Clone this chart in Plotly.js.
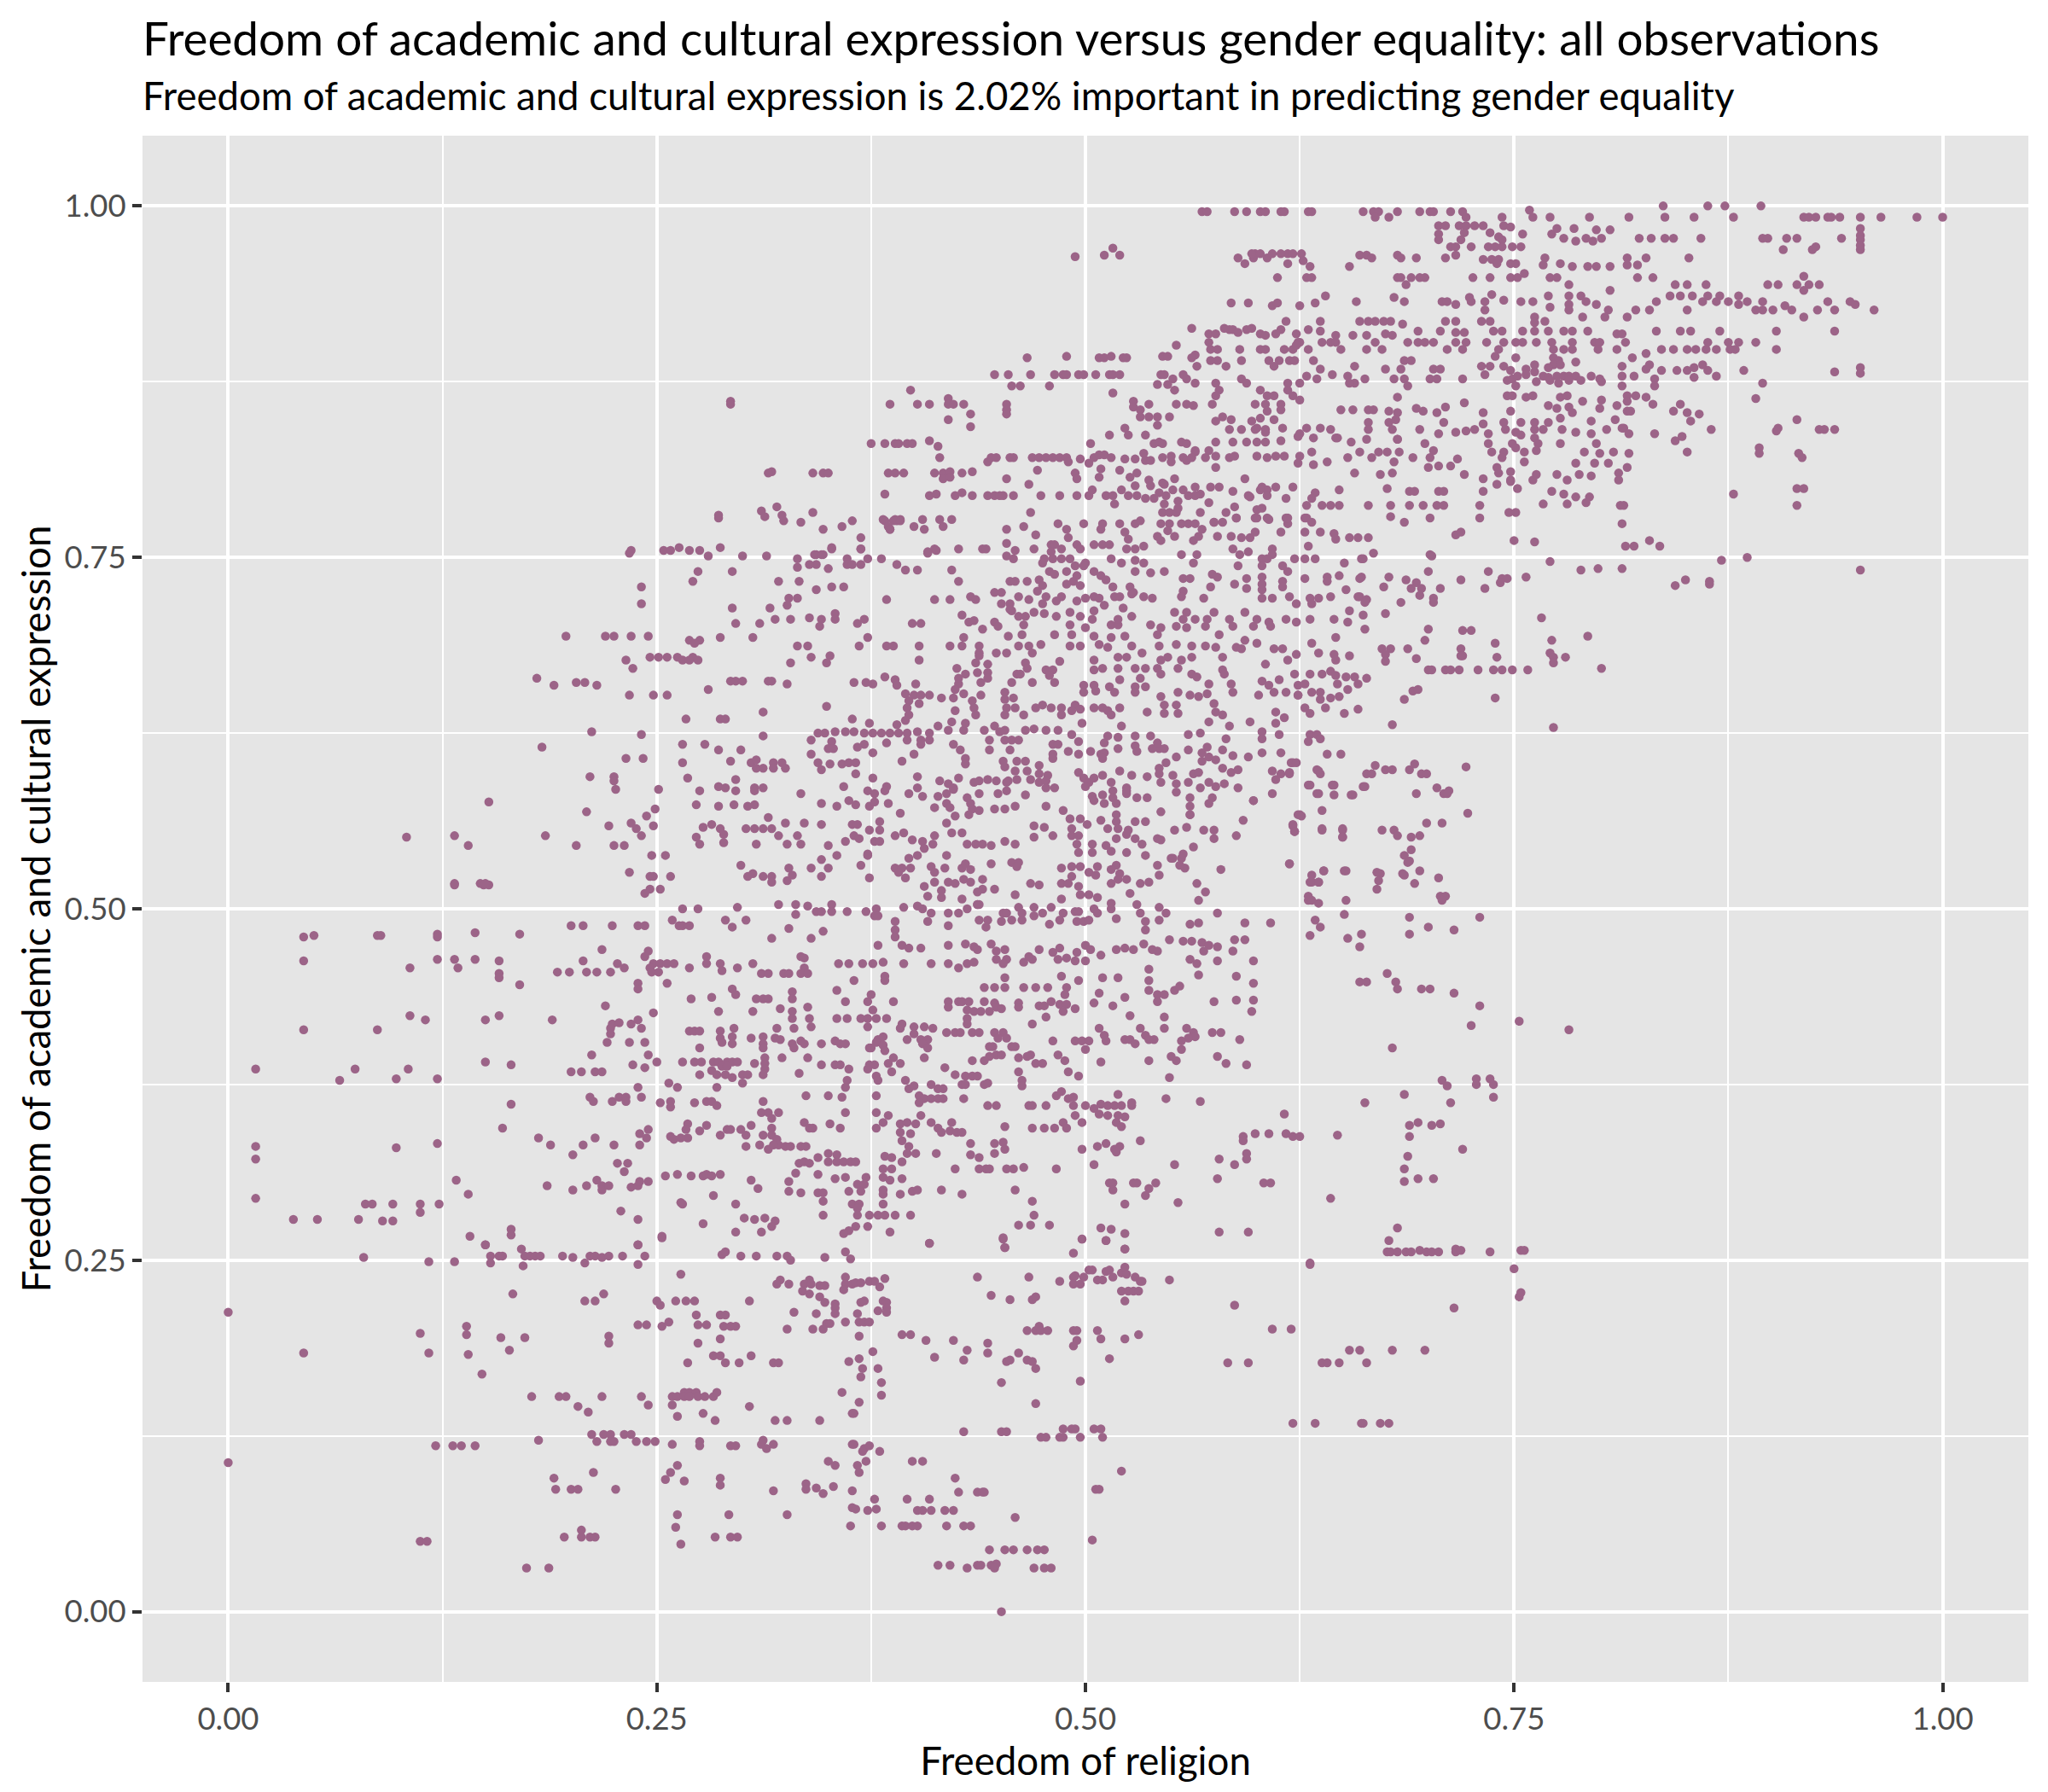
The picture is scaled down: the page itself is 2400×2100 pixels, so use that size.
<!DOCTYPE html>
<html><head><meta charset="utf-8">
<script src="https://cdn.plot.ly/plotly-3.0.1.min.js"></script>
<style>html,body{margin:0;padding:0;background:#fff}</style></head>
<body><div id="chart" style="width:2400px;height:2100px"></div>
<script>
const titleText = "Freedom of academic and cultural expression versus gender equality: all observations";
const subtitleText = "Freedom of academic and cultural expression is 2.02% important in predicting gender equality";
const xAxisTitle = "Freedom of religion";
const yAxisTitle = "Freedom of academic and cultural expression";
const tickValues = [0, 0.25, 0.5, 0.75, 1];
const tickLabels = ["0.00", "0.25", "0.50", "0.75", "1.00"];
// Observations, as flat (religion, academic) pairs, by region of the plot.
const lowLeft = [.079,.252,.117,.249,.132,.249,.153,.253,.153,.248,.158,.253,.160,.253,.171,.258,.173,.253,.176,.253,.179,.253,.182,.253,.172,.246,.195,.253,.201,.252,.208,.248,.211,.253,.214,.253,.218,.252,.222,.253,.230,.253,.239,.261,.243,.253,.239,.247,.253,.266,.288,.254,.290,.256,.299,.253,.308,.253,.320,.253,.326,.253,.328,.250,.348,.252,.360,.256,.363,.251,.150,.261,.264,.240,.322,.236,.320,.233,.327,.233,.339,.236,.336,.233,.340,.233,.345,.232,.348,.232,.360,.238,.360,.233,.364,.233,.359,.229,.335,.228,.339,.226,.345,.224,.348,.220,.354,.219,.354,.216,.354,.212,.343,.212,.330,.213,.166,.226,.208,.221,.214,.221,.219,.226,.250,.221,.252,.218,.261,.221,.267,.221,.272,.221,.304,.221,0,.213,.273,.211,.287,.211,.290,.211,.139,.203,.139,.197,.112,.198,.159,.195,.173,.195,.222,.196,.222,.191,.239,.204,.244,.204,.253,.203,.257,.206,.274,.204,.279,.204,.289,.203,.293,.203,.296,.203,.326,.201,.341,.201,.347,.201,.349,.205,.351,.205,.360,.206,.274,.191,.287,.194,.044,.184,.117,.184,.140,.183,.164,.186,.283,.182,.287,.182,.290,.177,.298,.177,.305,.182,.268,.177,.318,.177,.321,.177,.362,.178,.148,.169,.358,.156,.177,.153,.193,.153,.197,.153,.218,.153,.241,.153,.259,.153,.262,.153,.266,.156,.269,.156,.273,.156,.274,.153,.278,.153,.283,.153,.285,.156,.266,.153,.269,.153,.204,.146,.210,.142,.245,.147,.259,.147,.304,.146,.262,.139,.277,.141,.284,.136,.319,.136,.326,.136,.345,.136,.364,.141,.212,.126,.219,.126,.223,.126,.231,.126,.235,.126,.215,.121,.223,.121,.225,.121,.238,.121,.244,.121,.249,.121,.181,.122,.121,.118,.131,.118,.136,.118,.144,.118,.259,.119,.275,.121,.275,.118,.293,.118,.296,.118,.312,.122,.311,.119,.314,.116,.318,.119,.364,.119,0,.106,.350,.107,.354,.104,.262,.104,.258,.099,.255,.094,.266,.093,.213,.099,.190,.095,.191,.087,.200,.087,.204,.087,.226,.087,.287,.095,.287,.090,.318,.086,.337,.091,.337,.087,.343,.088,.347,.084,.353,.089,.364,.086,.262,.069,.292,.069,.326,.069,.364,.074,.363,.061,.261,.060,.206,.058,.206,.053,.196,.053,.211,.053,.214,.053,.284,.053,.293,.053,.297,.053,.264,.048,.112,.050,.116,.050,.174,.031,.187,.031];
const lowRight = [.409,.262,.452,.265,.453,.259,.493,.255,.498,.265,.512,.264,.523,.258,.677,.264,.676,.256,.678,.256,.682,.256,.687,.256,.690,.256,.695,.257,.699,.256,.702,.256,.706,.256,.716,.258,.716,.256,.719,.257,.736,.256,.754,.257,.756,.257,.631,.247,.750,.244,.753,.224,.754,.227,.587,.218,.715,.216,.366,.234,.369,.234,.374,.235,.377,.235,.383,.237,.380,.231,.437,.238,.467,.238,.485,.235,.493,.238,.494,.239,.493,.233,.497,.233,.499,.238,.502,.243,.504,.243,.507,.236,.510,.236,.512,.242,.514,.243,.516,.238,.521,.241,.523,.245,.524,.240,.529,.238,.532,.235,.533,.235,.549,.236,.521,.228,.525,.228,.528,.228,.531,.228,.523,.221,.445,.225,.456,.222,.469,.222,.471,.224,.369,.220,.371,.221,.382,.221,.384,.220,.384,.216,.379,.214,.384,.213,.367,.212,.368,.206,.371,.206,.374,.206,.368,.196,.393,.197,.398,.197,.407,.193,.423,.193,.443,.191,.431,.186,.443,.184,.466,.200,.471,.200,.473,.203,.474,.200,.478,.200,.493,.200,.495,.200,.507,.200,.509,.194,.495,.193,.493,.189,.523,.194,.531,.197,.609,.201,.620,.201,.376,.185,.412,.181,.429,.179,.368,.180,.454,.178,.456,.179,.461,.184,.466,.179,.469,.178,.471,.173,.514,.180,.583,.177,.595,.177,.638,.177,.641,.177,.648,.177,.664,.177,.654,.186,.660,.186,.679,.186,.698,.186,.370,.173,.379,.173,.369,.167,.381,.163,.381,.154,.368,.149,.451,.163,.497,.164,.471,.148,.365,.141,.621,.134,.634,.134,.661,.134,.662,.134,.672,.134,.677,.134,.429,.128,.451,.128,.454,.128,.487,.130,.492,.130,.494,.130,.505,.130,.509,.130,.474,.124,.477,.124,.485,.124,.487,.124,.497,.124,.510,.124,.365,.119,.371,.116,.374,.118,.370,.114,.380,.114,.399,.107,.405,.107,.372,.107,.367,.104,.368,.099,.424,.095,.521,.100,.426,.085,.437,.085,.440,.085,.441,.085,.506,.087,.508,.087,.377,.080,.396,.080,.409,.080,.366,.073,.373,.072,.378,.073,.402,.072,.405,.072,.410,.072,.418,.072,.423,.072,.459,.067,.381,.061,.393,.061,.395,.061,.399,.061,.402,.061,.419,.061,.429,.061,.433,.061,.504,.051,.444,.044,.453,.044,.458,.044,.466,.044,.472,.044,.476,.044,.414,.033,.421,.033,.431,.031,.437,.033,.439,.033,.445,.033,.448,.034,.447,.031,.470,.031,.476,.031,.480,.031,.451,0];
const midCentre = [.299,.531,.306,.525,.303,.523,.312,.523,.317,.523,.317,.519,.327,.529,.329,.524,.326,.520,.340,.529,.350,.529,.346,.523,.346,.535,.355,.538,.369,.531,.373,.538,.374,.522,.389,.529,.393,.529,.398,.529,.391,.526,.395,.522,.397,.536,.402,.538,.419,.538,.410,.530,.412,.526,.418,.529,.412,.519,.416,.513,.416,.508,.406,.516,.408,.509,.420,.519,.424,.518,.428,.529,.430,.532,.433,.528,.429,.521,.433,.519,.440,.521,.445,.532,.457,.533,.461,.533,.460,.530,.428,.507,.437,.503,.440,.514,.437,.512,.447,.514,.459,.510,.468,.518,.473,.517,.486,.518,.490,.518,.496,.516,.492,.523,.486,.529,.492,.530,.497,.530,.507,.530,.502,.526,.506,.524,.518,.531,.515,.528,.520,.525,.519,.521,.515,.518,.524,.521,.532,.518,.537,.519,.542,.531,.543,.524,.550,.536,.556,.536,.558,.529,.579,.528,.565,.518,.570,.512,.566,.506,.526,.511,.497,.510,.502,.510,.507,.508,.486,.507,.619,.532,.639,.527,.651,.527,.631,.519,.636,.519,.630,.506,.636,.504,.577,.497,.634,.492,.651,.496,.631,.481,.653,.479,.265,.500,.274,.500,.297,.501,.321,.503,.331,.503,.338,.502,.352,.503,.331,.496,.343,.498,.346,.498,.352,.498,.361,.498,.372,.498,.378,.500,.377,.495,.379,.495,.394,.501,.402,.502,.405,.500,.410,.497,.420,.497,.426,.497,.431,.500,.437,.503,.438,.503,.452,.497,.454,.497,.461,.501,.463,.497,.470,.501,.470,.495,.475,.497,.480,.501,.487,.497,.494,.498,.496,.498,.505,.500,.515,.504,.507,.497,.515,.500,.530,.503,.532,.497,.543,.501,.547,.497,.290,.492,.294,.487,.302,.492,.327,.486,.340,.479,.347,.484,.317,.479,.265,.488,.269,.488,.389,.491,.389,.485,.389,.480,.408,.491,.420,.488,.443,.492,.438,.492,.442,.487,.451,.491,.457,.492,.463,.492,.479,.489,.485,.492,.495,.491,.499,.491,.502,.492,.518,.493,.535,.491,.535,.485,.543,.492,.561,.489,.566,.490,.593,.490,.608,.490,.379,.474,.393,.474,.397,.472,.404,.472,.420,.474,.430,.475,.435,.473,.437,.471,.445,.475,.448,.470,.453,.471,.448,.464,.454,.464,.452,.461,.464,.462,.469,.464,.467,.466,.473,.471,.481,.469,.485,.472,.484,.464,.489,.465,.495,.469,.500,.474,.503,.471,.509,.467,.494,.463,.500,.463,.518,.471,.523,.472,.528,.471,.534,.475,.539,.471,.542,.470,.549,.478,.557,.477,.562,.477,.568,.476,.572,.474,.577,.473,.569,.470,.587,.478,.593,.478,.586,.470,.561,.464,.565,.461,.577,.463,.598,.463,.566,.453,.588,.452,.598,.447,.279,.466,.279,.461,.287,.461,.288,.456,.297,.458,.306,.461,.334,.466,.336,.465,.336,.458,.334,.454,.338,.454,.324,.454,.327,.454,.311,.454,.315,.454,.269,.458,.356,.461,.362,.461,.370,.461,.376,.461,.382,.462,.394,.461,.410,.461,.420,.461,.426,.458,.431,.461,.435,.462,.365,.449,.383,.452,.383,.449,.453,.451,.486,.452,.496,.449,.510,.451,.519,.451,.537,.457,.537,.449,.441,.444,.447,.444,.453,.444,.464,.444,.471,.444,.478,.444,.489,.444,.488,.439,.508,.440,.523,.437,.537,.442,.542,.439,.546,.439,.552,.442,.555,.445,.542,.434,.294,.443,.296,.439,.270,.436,.282,.437,.308,.436,.312,.436,.315,.436,.329,.441,.329,.436,.355,.442,.286,.427,.306,.427,.322,.429,.338,.430,.329,.427,.329,.422,.339,.422,.355,.422,.361,.422,.369,.422,.373,.422,.376,.428,.378,.422,.384,.422,.360,.434,.373,.434,.375,.439,.388,.434,.420,.434,.420,.430,.426,.434,.428,.434,.432,.434,.441,.434,.447,.433,.448,.430,.451,.429,.461,.433,.461,.430,.473,.431,.476,.431,.480,.434,.485,.432,.489,.432,.487,.427,.494,.429,.505,.433,.516,.431,.575,.434,.588,.435,.598,.435,.597,.427,.526,.424,.546,.423,.477,.423,.469,.418,.431,.428,.435,.427,.439,.427,.444,.427,.431,.422,.431,.418,.393,.418,.392,.415,.400,.416,.400,.411,.406,.416,.411,.415,.419,.412,.424,.412,.427,.412,.434,.412,.438,.412,.447,.412,.452,.412,.449,.408,.454,.408,.508,.415,.511,.410,.512,.406,.494,.406,.498,.406,.502,.406,.481,.406,.523,.407,.526,.407,.529,.404,.532,.415,.535,.410,.537,.407,.540,.407,.546,.415,.559,.415,.563,.412,.564,.409,.560,.408,.556,.406,.574,.412,.579,.412,.590,.407,.556,.400,.550,.395,.553,.392,.537,.392,.577,.395,.582,.390,.594,.389,.549,.380,.509,.391,.500,.400,.484,.396,.488,.392,.490,.384,.496,.381,.468,.396,.466,.395,.461,.394,.471,.390,.475,.390,.461,.384,.463,.378,.463,.374,.434,.392,.448,.396,.451,.396,.444,.395,.441,.392,.444,.402,.446,.402,.457,.402,.459,.402,.396,.407,.404,.407,.408,.407,.405,.404,.408,.401,.406,.394,.418,.387,.424,.382,.430,.381,.434,.381,.437,.381,.428,.375,.430,.375,.441,.375,.443,.376,.395,.378,.397,.372,.400,.374,.410,.375,.414,.372,.417,.372,.403,.367,.406,.365,.410,.365,.414,.365,.417,.365,.403,.362,.429,.365,.404,.353,.443,.360,.448,.360,.467,.360,.469,.360,.477,.360,.483,.367,.486,.370,.490,.365,.493,.366,.493,.360,.500,.360,.505,.358,.508,.354,.509,.361,.513,.360,.517,.360,.521,.360,.527,.360,.527,.362,.519,.368,.494,.353,.513,.353,.523,.352,.519,.353,.518,.348,.521,.345,.498,.348,.547,.365,.567,.363,.616,.354,.469,.344,.476,.344,.482,.344,.487,.348,.489,.344,.453,.345,.592,.338,.592,.335,.599,.340,.607,.340,.617,.340,.621,.338,.625,.338,.647,.339,.594,.326,.594,.322,.587,.318,.578,.322,.532,.335,.520,.331,.517,.329,.518,.327,.507,.331,.512,.333,.498,.329,.433,.333,.447,.333,.452,.334,.453,.329,.447,.326,.433,.325,.438,.323,.413,.326,.505,.318,.552,.318,.577,.308,.604,.305,.608,.305,.424,.315,.442,.315,.438,.315,.444,.315,.454,.315,.458,.315,.464,.316,.483,.315,.514,.305,.516,.305,.516,.300,.528,.305,.530,.305,.541,.305,.537,.301,.535,.296,.523,.290,.554,.291,.643,.294,.459,.300,.469,.292,.470,.282,.416,.300,.428,.297,.461,.275,.468,.275,.479,.275,.509,.273,.515,.272,.523,.269,.452,.266,.453,.259,.498,.265,.512,.264,.523,.258,.578,.270,.595,.270,.631,.248,.409,.262];
const midCentreLeft = [.269,.413,.272,.413,.275,.413,.287,.413,.295,.415,.287,.408,.288,.405,.294,.409,.294,.404,.305,.408,.312,.409,.312,.404,.312,.401,.319,.408,.322,.407,.329,.404,.330,.401,.334,.406,.336,.404,.346,.404,.354,.406,.357,.404,.360,.404,.320,.415,.330,.415,.340,.416,.373,.416,.379,.407,.382,.409,.378,.405,.382,.403,.383,.399,.374,.401,.375,.401,.275,.401,.265,.391,.272,.391,.276,.391,.283,.391,.286,.391,.291,.391,.294,.391,.297,.391,.288,.388,.291,.388,.282,.385,.275,.382,.285,.382,.290,.382,.294,.380,.300,.382,.303,.382,.300,.376,.285,.373,.307,.390,.313,.394,.313,.390,.313,.386,.312,.382,.323,.394,.338,.394,.333,.383,.346,.389,.354,.389,.357,.389,.362,.386,.361,.378,.360,.373,.374,.389,.377,.389,.373,.386,.378,.381,.379,.378,.385,.390,.388,.394,.392,.390,.387,.384,.337,.367,.350,.367,.358,.366,.378,.367,.360,.355,.378,.355,.385,.353,.382,.348,.378,.344,.272,.362,.279,.363,.282,.363,.285,.360,.312,.363,.311,.355,.315,.355,.321,.355,.317,.351,.305,.346,.279,.346,.275,.342,.291,.343,.293,.343,.299,.343,.302,.339,.287,.339,.268,.347,.267,.343,.268,.337,.336,.348,.339,.344,.341,.344,.351,.347,.357,.344,.317,.344,.312,.339,.317,.339,.320,.336,.321,.332,.302,.331,.310,.332,.315,.329,.318,.332,.325,.331,.328,.331,.334,.331,.337,.331,.392,.347,.396,.348,.401,.347,.392,.341,.398,.340,.393,.335,.397,.331,.396,.326,.401,.326,.410,.348,.414,.344,.416,.341,.422,.348,.421,.342,.425,.341,.428,.341,.333,.319,.336,.320,.339,.319,.344,.323,.350,.326,.350,.320,.355,.325,.355,.320,.359,.320,.363,.320,.366,.320,.383,.324,.387,.323,.393,.320,.382,.315,.387,.315,.382,.309,.386,.307,.393,.308,.372,.309,.367,.304,.371,.304,.382,.300,.382,.297,.392,.297,.399,.299,.402,.300,.362,.299,.369,.299,.270,.310,.277,.310,.279,.311,.282,.310,.287,.311,.305,.307,.309,.301,.331,.312,.327,.306,.327,.299,.334,.298,.344,.311,.344,.298,.347,.298,.354,.308,.360,.309,.347,.292,.283,.296,.296,.290,.265,.290,.364,.290,.368,.290,.367,.287,.382,.290,.367,.282,.374,.282,.379,.282,.383,.282,.389,.282,.398,.282,.347,.282,.301,.280,.307,.279,.313,.280,.319,.278,.317,.274,.277,.276,.296,.270,.311,.270,.366,.274,.373,.274,.362,.271,.359,.269,.386,.270];
const farLeft = [.132,.517,.149,.517,.152,.517,.234,.526,.246,.523,.248,.523,.258,.523,.246,.514,.243,.511,.252,.514,.044,.480,.050,.481,.089,.481,.087,.481,.122,.482,.122,.480,.144,.483,.170,.482,.200,.488,.207,.488,.224,.488,.239,.488,.243,.488,.259,.492,.263,.488,.044,.463,.106,.458,.122,.464,.132,.464,.134,.458,.144,.464,.158,.463,.158,.454,.158,.451,.170,.446,.207,.463,.218,.471,.227,.461,.231,.458,.192,.455,.199,.455,.209,.455,.215,.455,.223,.455,.245,.470,.243,.466,.248,.461,.252,.461,.256,.461,.260,.461,.246,.458,.247,.455,.251,.455,.239,.447,.239,.443,.256,.447,.220,.431,.248,.426,.106,.424,.115,.421,.150,.421,.158,.424,.189,.421,.044,.414,.087,.414,.224,.418,.228,.419,.223,.415,.223,.411,.239,.421,.235,.418,.241,.415,.221,.405,.234,.405,.243,.405,.212,.396,.245,.396,.250,.391,.236,.389,.243,.387,.150,.391,.165,.389,.016,.386,.074,.386,.105,.386,.065,.378,.098,.379,.122,.379,.200,.384,.206,.384,.214,.384,.218,.384,.257,.376,.262,.373,.239,.373,.165,.361,.211,.366,.213,.363,.224,.363,.228,.366,.232,.366,.232,.363,.241,.366,.252,.362,.258,.363,.258,.359,.160,.344,.181,.337,.188,.332,.214,.337,.207,.332,.225,.332,.201,.325,.240,.340,.245,.343,.244,.337,.240,.332,.258,.338,.260,.336,.264,.337,.016,.331,.016,.322,.098,.330,.122,.333,.227,.319,.233,.319,.231,.313,.255,.310,.262,.311,.133,.307,.140,.297,.186,.303,.201,.300,.209,.303,.215,.307,.218,.303,.218,.300,.222,.303,.235,.302,.239,.303,.240,.306,.245,.306,.264,.291,.016,.294,.080,.290,.084,.290,.096,.290,.112,.290,.112,.284,.123,.290,.038,.279,.052,.279,.076,.279,.090,.278,.096,.278,.229,.285,.239,.279,.165,.272,.165,.268,.141,.267,.150,.261,.253,.267,.239,.261,.104,.551,.132,.552,.140,.545,.132,.518,.147,.518,.150,.518,.152,.576,.183,.615,.180,.664,.185,.552,.190,.659,.203,.661,.208,.661,.215,.659,.197,.694,.220,.694,.225,.694,.234,.753,.241,.729,.241,.717,.235,.694,.245,.694,.232,.677,.236,.671,.234,.652,.212,.626,.241,.624,.211,.594,.225,.594,.232,.607,.242,.607,.225,.591,.226,.585,.209,.569,.222,.559,.235,.561,.203,.545,.225,.545,.231,.545,.241,.552,.238,.557,.244,.566,.248,.559,.255,.538,.247,.538,.251,.585,.249,.571,.235,.755,.254,.755,.258,.755,.263,.757,.246,.679,.251,.679,.256,.679,.262,.679,.271,.679,.275,.691,.269,.691,.248,.652,.256,.652];
const upperCentre = [.286,.778,.313,.779,.324,.776,.347,.770,.358,.772,.364,.776,.369,.764,.382,.777,.386,.770,.389,.777,.392,.777,.400,.772,.406,.770,.405,.777,.415,.777,.417,.772,.422,.777,.454,.770,.464,.772,.471,.766,.484,.774,.489,.770,.490,.764,.499,.774,.510,.774,.509,.770,.520,.774,.529,.774,.532,.776,.523,.768,.525,.763,.544,.774,.549,.774,.556,.774,.560,.774,.564,.774,.548,.769,.552,.765,.542,.765,.544,.762,.563,.762,.566,.765,.575,.775,.577,.765,.585,.765,.591,.764,.596,.764,.599,.768,.607,.777,.599,.778,.588,.778,.614,.768,.618,.774,.617,.778,.628,.778,.628,.768,.637,.768,.645,.767,.646,.763,.654,.764,.659,.764,.287,.757,.269,.755,.275,.755,.280,.751,.300,.751,.314,.751,.352,.756,.343,.752,.347,.752,.332,.749,.343,.745,.339,.745,.332,.743,.361,.749,.361,.745,.364,.745,.369,.745,.369,.756,.373,.749,.381,.749,.350,.742,.390,.745,.395,.741,.402,.741,.408,.754,.412,.756,.426,.756,.440,.756,.442,.756,.422,.741,.426,.733,.454,.760,.459,.755,.470,.756,.454,.751,.458,.749,.476,.749,.475,.746,.480,.759,.482,.759,.480,.754,.486,.756,.495,.759,.497,.756,.505,.759,.510,.759,.514,.759,.481,.749,.486,.749,.491,.749,.494,.744,.500,.746,.499,.744,.515,.749,.521,.746,.529,.748,.534,.746,.524,.756,.529,.756,.534,.758,.556,.752,.563,.746,.565,.752,.586,.756,.590,.752,.595,.754,.609,.756,.609,.752,.603,.749,.606,.749,.622,.749,.628,.749,.634,.749,.630,.758,.651,.746,.661,.749,.589,.744,.603,.744,.615,.744,.618,.740,.274,.740,.294,.740,.271,.733,.321,.733,.333,.733,.479,.740,.482,.738,.489,.740,.495,.737,.493,.733,.489,.731,.497,.730,.505,.740,.509,.737,.512,.734,.529,.740,.538,.739,.546,.740,.557,.735,.561,.735,.574,.738,.577,.736,.587,.731,.594,.735,.603,.736,.603,.731,.615,.733,.615,.729,.628,.735,.641,.736,.648,.737,.660,.735,.456,.733,.459,.733,.466,.733,.473,.734,.475,.730,.472,.726,.343,.727,.352,.729,.359,.729,.516,.729,.526,.729,.528,.725,.573,.729,.594,.728,.603,.727,.652,.727,.641,.733,.557,.726,.556,.722,.569,.721,.327,.721,.332,.721,.326,.716,.316,.714,.294,.714,.384,.720,.412,.720,.421,.720,.433,.722,.436,.720,.447,.725,.451,.725,.451,.717,.461,.722,.467,.720,.456,.717,.477,.722,.475,.717,.486,.722,.483,.719,.495,.719,.500,.721,.505,.722,.508,.721,.517,.722,.520,.722,.527,.724,.534,.722,.539,.721,.511,.716,.522,.714,.603,.721,.609,.721,.619,.722,.623,.717,.631,.721,.636,.721,.643,.722,.660,.722,.632,.717,.457,.712,.456,.713,.461,.708,.465,.708,.470,.711,.476,.710,.483,.708,.491,.711,.497,.708,.504,.706,.505,.712,.491,.702,.500,.700,.515,.702,.519,.702,.527,.708,.519,.706,.552,.711,.559,.711,.557,.706,.564,.706,.575,.711,.571,.706,.570,.701,.584,.706,.586,.701,.593,.711,.600,.706,.607,.704,.617,.706,.623,.704,.631,.706,.645,.706,.654,.712,.653,.704,.598,.701,.608,.701,.538,.702,.544,.700,.553,.701,.559,.700,.428,.709,.432,.704,.435,.705,.440,.699,.447,.704,.449,.701,.399,.703,.404,.703,.367,.703,.371,.706,.354,.710,.354,.706,.346,.706,.339,.707,.328,.706,.319,.706,.345,.701,.310,.703,.296,.703,.464,.702,.463,.695,.455,.694,.482,.695,.492,.695,.505,.694,.515,.693,.523,.694,.542,.695,.287,.693,.306,.693,.373,.693,.429,.693,.578,.695,.646,.693,.593,.691,.600,.689,.272,.689,.332,.687,.338,.687,.368,.687,.384,.687,.388,.687,.403,.687,.421,.687,.428,.687,.438,.687,.448,.682,.454,.682,.461,.687,.467,.687,.474,.688,.469,.682,.491,.687,.497,.687,.508,.688,.513,.686,.527,.687,.543,.687,.553,.688,.562,.687,.570,.687,.576,.686,.588,.686,.591,.685,.610,.685,.615,.685,.632,.689,.636,.682,.623,.681,.645,.681,.654,.680,.438,.682,.438,.680,.533,.682,.519,.679,.524,.679,.548,.679,.556,.677,.562,.679,.544,.677,.580,.679,.340,.679,.351,.680,.349,.675,.328,.675,.403,.677,.436,.675,.443,.674,.465,.675,.485,.676,.505,.677,.646,.677,.618,.677,.605,.674,.265,.677,.269,.677,.274,.677,.425,.671,.437,.668,.443,.668,.443,.664,.439,.661,.460,.667,.466,.671,.462,.667,.477,.670,.481,.670,.479,.666,.482,.661,.505,.670,.510,.671,.519,.671,.529,.671,.535,.671,.542,.671,.544,.667,.554,.671,.580,.670,.581,.667,.562,.667,.565,.665,.622,.667,.631,.667,.638,.667,.643,.669,.646,.666,.652,.665,.657,.665,.293,.662,.296,.662,.300,.662,.315,.662,.317,.662,.326,.660,.280,.656,.365,.661,.372,.661,.376,.660,.383,.665,.389,.663,.390,.659,.401,.660,.457,.661,.469,.661,.499,.659,.499,.654,.505,.659,.506,.655,.514,.658,.517,.654,.520,.663,.529,.658,.532,.664,.529,.654,.535,.658,.585,.660,.586,.654,.572,.660,.571,.653,.554,.654,.561,.652,.566,.651,.544,.651,.603,.662,.601,.652,.607,.659,.610,.654,.617,.654,.613,.663,.624,.659,.628,.660,.632,.654,.637,.654,.643,.650,.648,.651,.653,.656,.647,.660,.624,.652,.637,.649,.659,.660];
const centreBand = [.426,.660,.430,.667,.426,.664,.424,.656,.395,.653,.400,.652,.404,.652,.409,.652,.416,.650,.423,.650,.429,.653,.434,.648,.439,.652,.453,.654,.458,.650,.453,.649,.397,.648,.396,.643,.403,.646,.397,.638,.395,.634,.424,.641,.435,.643,.436,.638,.454,.643,.459,.643,.453,.638,.464,.638,.471,.643,.475,.645,.480,.643,.486,.643,.486,.638,.494,.645,.492,.641,.497,.642,.505,.643,.510,.643,.513,.641,.520,.643,.515,.638,.536,.640,.546,.645,.546,.639,.553,.645,.554,.639,.575,.646,.576,.640,.580,.638,.628,.643,.631,.639,.640,.643,.651,.639,.659,.642,.349,.644,.312,.640,.267,.635,.287,.635,.290,.635,.364,.635,.374,.632,.390,.631,.340,.620,.344,.625,.348,.625,.354,.626,.360,.626,.365,.626,.371,.625,.376,.625,.381,.625,.386,.625,.391,.625,.396,.625,.402,.626,.409,.625,.409,.620,.396,.620,.404,.620,.384,.618,.371,.617,.367,.615,.376,.611,.352,.619,.350,.614,.353,.614,.340,.610,.344,.604,.351,.603,.358,.603,.362,.604,.366,.604,.346,.599,.414,.630,.420,.627,.429,.627,.430,.632,.422,.633,.441,.627,.447,.630,.450,.626,.453,.627,.444,.620,.453,.620,.457,.620,.461,.620,.465,.627,.470,.628,.477,.627,.484,.627,.492,.624,.496,.619,.498,.632,.521,.630,.538,.623,.529,.623,.519,.622,.513,.623,.511,.618,.560,.624,.567,.625,.582,.621,.572,.633,.584,.630,.596,.633,.611,.640,.616,.636,.611,.632,.603,.626,.603,.621,.613,.624,.631,.624,.635,.624,.637,.621,.630,.619,.265,.617,.278,.617,.286,.613,.299,.613,.312,.623,.423,.617,.427,.613,.430,.607,.430,.603,.444,.613,.456,.613,.400,.610,.404,.617,.393,.605,.481,.617,.484,.617,.490,.612,.496,.610,.481,.610,.481,.607,.503,.612,.509,.610,.511,.611,.510,.607,.519,.614,.529,.616,.530,.612,.539,.614,.543,.614,.542,.618,.546,.614,.553,.608,.560,.613,.571,.615,.568,.611,.572,.608,.580,.613,.586,.609,.595,.608,.603,.611,.614,.611,.641,.610,.649,.610,.568,.605,.576,.606,.621,.604,.265,.604,.293,.605,.305,.604,.308,.606,.308,.600,.312,.600,.318,.604,.318,.600,.323,.604,.325,.600,.580,.600,.585,.597,.589,.599,.609,.598,.611,.592,.614,.596,.619,.597,.636,.598,.452,.605,.460,.605,.465,.605,.453,.601,.473,.602,.466,.598,.473,.596,.478,.595,.468,.592,.473,.590,.477,.591,.459,.598,.460,.592,.454,.590,.454,.584,.496,.597,.499,.593,.502,.590,.505,.593,.500,.587,.510,.595,.515,.590,.520,.598,.527,.595,.536,.594,.524,.586,.516,.584,.524,.584,.543,.600,.547,.604,.543,.596,.544,.590,.551,.595,.553,.589,.560,.590,.563,.596,.566,.597,.567,.586,.572,.590,.576,.587,.581,.589,.589,.586,.553,.583,.631,.588,.645,.588,.636,.582,.645,.581,.656,.581,.609,.582,.598,.577,.662,.587,.268,.593,.296,.592,.275,.584,.286,.587,.290,.586,.296,.584,.307,.586,.312,.586,.307,.584,.334,.582,.366,.596,.376,.593,.359,.587,.384,.587,.373,.584,.377,.582,.383,.584,.402,.594,.415,.591,.420,.589,.426,.593,.423,.585,.438,.591,.443,.592,.448,.591,.455,.591,.435,.590,.402,.586,.397,.582,.405,.580,.414,.580,.419,.582,.423,.586,.431,.579,.438,.582,.449,.582,.465,.581,.477,.586,.482,.586,.504,.580,.510,.581,.516,.579,.524,.582,.530,.579,.536,.579,.561,.579,.574,.579,.273,.574,.286,.573,.295,.574,.303,.573,.307,.574,.346,.575,.355,.573,.362,.577,.366,.574,.374,.573,.377,.576,.385,.575,.392,.568,.412,.572,.419,.575,.421,.572,.433,.575,.434,.571,.432,.567,.438,.570,.447,.571,.453,.571,.459,.573,.477,.573,.487,.570,.505,.577,.511,.575,.518,.575,.518,.567,.544,.569,.561,.573,.561,.567,.572,.575,.598,.577,.638,.570,.315,.565,.282,.560,.277,.558,.287,.557,.289,.553,.289,.547,.273,.551,.275,.546,.302,.557,.307,.557,.312,.557,.317,.557,.321,.552,.308,.546,.325,.561,.336,.561,.346,.560,.332,.552,.326,.546,.334,.546,.350,.545,.364,.560,.367,.560,.380,.562,.374,.556,.380,.556,.365,.552,.360,.548,.368,.550,.377,.548,.380,.548,.389,.552,.394,.554,.373,.539,.419,.561,.424,.566,.422,.554,.428,.554,.412,.552,.399,.549,.405,.548,.411,.546,.406,.543,.431,.546,.436,.546,.440,.546,.445,.545,.453,.548,.459,.546,.470,.559,.476,.558,.470,.551,.481,.552,.491,.564,.497,.564,.501,.560,.492,.557,.492,.552,.496,.552,.495,.546,.496,.540,.504,.546,.512,.545,.515,.541,.504,.540,.509,.563,.513,.557,.518,.562,.519,.557,.525,.556,.529,.562,.535,.562,.518,.550,.524,.553,.529,.550,.533,.546,.524,.540,.535,.538,.542,.550,.544,.549,.552,.556,.559,.558,.561,.567,.569,.556,.575,.556,.575,.550,.588,.552,.592,.563,.563,.544,.557,.539,.551,.536,.555,.531,.625,.567,.621,.559,.622,.555,.638,.557,.650,.557,.650,.551,.619,.532];
const topRight = [.587,.996,.594,.996,.602,.996,.605,.996,.614,.996,.616,.996,.630,.996,.632,.996,.662,.996,.668,.996,.671,.996,.682,.996,.695,.996,.701,.996,.703,.996,.713,.996,.720,.996,.568,.996,.571,.996,.669,.992,.677,.992,.722,.992,.743,.992,.759,.997,.761,.992,.771,.992,.794,.992,.817,.992,.838,.992,.855,.992,.878,.992,.919,.992,.922,.992,.926,.992,.933,.992,.935,.992,.940,.992,.952,.992,.964,.992,.985,.992,1,.992,.837,1,.863,1,.873,1,.894,1,.706,.986,.710,.986,.718,.986,.722,.986,.727,.986,.732,.986,.744,.986,.748,.985,.706,.980,.721,.981,.736,.981,.755,.980,.772,.980,.775,.984,.785,.984,.798,.983,.806,.983,.952,.984,.952,.979,.706,.976,.719,.976,.741,.978,.743,.976,.779,.977,.786,.975,.792,.977,.796,.975,.801,.977,.823,.977,.830,.977,.838,.977,.843,.977,.859,.977,.895,.977,.898,.977,.909,.977,.915,.977,.941,.977,.952,.976,.713,.971,.716,.971,.725,.971,.735,.971,.739,.971,.743,.971,.749,.971,.754,.971,.907,.969,.924,.969,.926,.971,.952,.969,.952,.972,.589,.963,.593,.959,.598,.963,.599,.966,.606,.963,.609,.966,.618,.966,.618,.959,.626,.966,.660,.965,.664,.965,.667,.963,.682,.965,.684,.963,.693,.963,.710,.963,.716,.965,.732,.962,.737,.962,.741,.962,.740,.959,.748,.959,.751,.959,.768,.963,.767,.958,.777,.959,.784,.957,.793,.957,.798,.957,.806,.957,.816,.963,.816,.958,.822,.958,.827,.963,.852,.963,.631,.957,.654,.957,.612,.949,.629,.949,.632,.949,.682,.949,.684,.949,.690,.949,.695,.949,.698,.949,.726,.949,.736,.949,.748,.949,.752,.949,.756,.952,.771,.949,.775,.949,.822,.949,.831,.949,.687,.944,.782,.944,.806,.940,.844,.944,.851,.944,.862,.944,.898,.944,.904,.944,.915,.944,.922,.944,.919,.950,.919,.940,.928,.944,.640,.936,.680,.935,.724,.935,.737,.937,.770,.936,.782,.936,.789,.936,.841,.936,.847,.936,.854,.936,.863,.936,.870,.936,.881,.936,.585,.931,.595,.931,.609,.929,.612,.931,.625,.929,.634,.931,.658,.932,.686,.932,.708,.932,.711,.932,.716,.930,.725,.932,.733,.932,.744,.933,.754,.932,.761,.932,.771,.928,.782,.930,.792,.932,.798,.930,.805,.926,.833,.932,.821,.926,.829,.926,.851,.926,.860,.932,.868,.932,.875,.932,.881,.930,.886,.932,.895,.932,.891,.926,.895,.926,.901,.926,.908,.929,.912,.926,.919,.921,.927,.926,.933,.932,.937,.926,.946,.932,.949,.930,.960,.926,.733,.926,.782,.926,.790,.921,.803,.921,.816,.921,.617,.918,.637,.918,.660,.918,.665,.918,.669,.918,.674,.918,.678,.918,.685,.916,.710,.918,.716,.918,.731,.918,.736,.918,.762,.921,.762,.917,.768,.918,.584,.912,.586,.912,.594,.912,.614,.912,.630,.912,.637,.911,.694,.911,.707,.911,.716,.910,.721,.910,.743,.911,.738,.911,.755,.911,.762,.911,.770,.911,.779,.911,.784,.911,.793,.911,.810,.909,.813,.909,.833,.911,.847,.911,.853,.911,.870,.911,.903,.911,.937,.911,.572,.909,.576,.909,.602,.909,.605,.908,.611,.909,.623,.909,.646,.908,.656,.908,.664,.908,.675,.909,.679,.908,.624,.903,.625,.903,.638,.903,.643,.903,.646,.903,.669,.903,.688,.903,.694,.903,.698,.903,.703,.903,.716,.903,.722,.903,.734,.903,.744,.903,.751,.903,.755,.903,.763,.903,.772,.903,.784,.903,.797,.903,.800,.903,.815,.903,.863,.903,.875,.903,.881,.903,.891,.903,.573,.898,.577,.898,.590,.898,.602,.898,.605,.898,.616,.898,.621,.898,.623,.901,.630,.898,.649,.898,.664,.898,.673,.898,.711,.898,.720,.898,.741,.898,.773,.898,.779,.898,.784,.898,.799,.898,.810,.898,.836,.898,.843,.898,.851,.898,.856,.898,.862,.898,.868,.898,.876,.898,.879,.898,.903,.898,.739,.893,.773,.892,.819,.892,.827,.895,.573,.890,.577,.890,.591,.890,.607,.890,.613,.890,.619,.890,.622,.890,.633,.890,.686,.890,.690,.890,.751,.892,.776,.890,.786,.889,.773,.887,.610,.886,.565,.886,.582,.886,.637,.884,.657,.886,.675,.884,.684,.884,.703,.884,.707,.884,.731,.886,.736,.886,.744,.886,.748,.883,.757,.884,.762,.887,.770,.885,.777,.887,.813,.886,.827,.884,.829,.887,.836,.883,.845,.883,.851,.883,.855,.885,.860,.887,.863,.883,.884,.883,.937,.882,.952,.885,.952,.881,.746,.876,.749,.877,.752,.879,.757,.880,.762,.882,.767,.879,.770,.878,.775,.879,.779,.879,.782,.879,.786,.879,.789,.876,.763,.875,.776,.874,.782,.876,.771,.876,.751,.872,.795,.879,.800,.877,.801,.875,.813,.879,.820,.879,.832,.877,.832,.872,.813,.872,.855,.878,.868,.879,.629,.879,.635,.877,.644,.880,.653,.879,.657,.874,.654,.874,.663,.877,.680,.877,.686,.877,.688,.872,.701,.877,.705,.877,.720,.877,.733,.880,.895,.874,.891,.863,.564,.874,.576,.874,.591,.877,.594,.874,.618,.874,.625,.874];
const upperRight = [.578,.869,.576,.865,.602,.869,.606,.865,.610,.865,.618,.869,.621,.865,.625,.862,.682,.864,.746,.865,.749,.865,.757,.864,.761,.865,.777,.864,.781,.865,.790,.861,.801,.862,.816,.865,.816,.861,.821,.865,.827,.864,.831,.859,.847,.859,.843,.854,.851,.853,.858,.852,.853,.847,.865,.841,.574,.859,.599,.859,.605,.859,.614,.859,.614,.855,.649,.855,.656,.855,.665,.855,.668,.855,.677,.854,.682,.853,.693,.856,.697,.854,.705,.853,.710,.857,.721,.860,.732,.853,.748,.854,.770,.858,.775,.856,.782,.857,.784,.853,.800,.856,.810,.858,.816,.854,.818,.854,.576,.847,.580,.850,.585,.848,.597,.847,.602,.849,.606,.854,.610,.848,.605,.841,.600,.842,.665,.846,.665,.841,.677,.846,.681,.848,.679,.841,.682,.834,.709,.846,.732,.845,.744,.846,.754,.846,.762,.846,.770,.846,.777,.849,.795,.847,.809,.848,.814,.842,.904,.842,.903,.840,.915,.848,.928,.841,.931,.841,.937,.841,.584,.841,.591,.841,.599,.841,.605,.839,.615,.842,.625,.838,.629,.842,.637,.842,.643,.841,.646,.835,.695,.841,.706,.838,.716,.839,.722,.840,.727,.841,.735,.838,.745,.841,.751,.839,.754,.837,.762,.841,.767,.841,.778,.841,.786,.839,.795,.838,.804,.841,.813,.842,.817,.838,.832,.838,.844,.833,.848,.836,.576,.832,.586,.832,.594,.832,.600,.832,.605,.832,.614,.833,.624,.836,.633,.835,.647,.835,.655,.832,.664,.834,.682,.834,.698,.831,.703,.826,.735,.831,.749,.831,.762,.835,.764,.831,.777,.831,.798,.831,.851,.825,.893,.828,.893,.824,.916,.824,.918,.821,.808,.825,.817,.824,.800,.824,.791,.825,.564,.825,.570,.821,.576,.822,.584,.821,.587,.822,.600,.822,.606,.821,.611,.822,.616,.822,.625,.822,.632,.825,.624,.817,.633,.816,.641,.818,.653,.821,.660,.825,.671,.825,.676,.825,.683,.825,.667,.821,.680,.818,.691,.821,.701,.821,.717,.820,.700,.814,.706,.815,.713,.815,.737,.825,.744,.825,.751,.828,.756,.825,.763,.826,.743,.821,.756,.818,.786,.817,.797,.817,.805,.817,.816,.814,.740,.814,.741,.810,.748,.811,.748,.805,.576,.814,.721,.809,.732,.806,.740,.802,.748,.804,.752,.799,.761,.805,.763,.809,.775,.809,.781,.805,.788,.809,.795,.808,.811,.810,.811,.805,.657,.810,.672,.809,.679,.810,.593,.806,.564,.800,.573,.800,.578,.800,.586,.797,.603,.800,.606,.798,.611,.800,.621,.800,.648,.798,.676,.799,.689,.797,.692,.797,.706,.797,.709,.797,.732,.797,.772,.797,.779,.795,.786,.793,.794,.793,.878,.795,.915,.799,.919,.799,.567,.795,.596,.793,.606,.794,.617,.792,.634,.796,.632,.792,.629,.787,.638,.787,.643,.787,.648,.787,.665,.787,.678,.787,.689,.787,.697,.787,.705,.787,.709,.787,.730,.787,.767,.788,.781,.788,.792,.789,.812,.787,.814,.787,.915,.787,.567,.782,.582,.782,.600,.784,.603,.785,.678,.779,.686,.775,.701,.778,.730,.778,.747,.782,.751,.782,.588,.778,.600,.778,.606,.778,.618,.778,.629,.778,.632,.775,.575,.775,.813,.774,.665,.764,.716,.766,.719,.768,.750,.762,.762,.761,.815,.758,.820,.758,.829,.762,.835,.758,.668,.753,.662,.749,.701,.752,.702,.751,.771,.747,.871,.748,.886,.750,.700,.740,.735,.740,.743,.735,.746,.735,.757,.736,.789,.741,.799,.742,.813,.742,.952,.741,.661,.736,.677,.736,.687,.734,.693,.732,.674,.729,.690,.728,.696,.728,.707,.728,.719,.734,.733,.728,.742,.732,.844,.730,.850,.734,.864,.733,.864,.731,.659,.722,.664,.720,.663,.718,.684,.718,.695,.723,.703,.721,.703,.718,.675,.710,.662,.709,.766,.707,.663,.699,.700,.699,.720,.698,.725,.698,.793,.694,.698,.691,.719,.685,.719,.680,.739,.689,.772,.691,.673,.685,.678,.685,.688,.685,.675,.681,.675,.676,.693,.678,.720,.680,.771,.682,.773,.679,.773,.675,.780,.679,.740,.679,.700,.670,.702,.670,.710,.670,.713,.670,.718,.670,.729,.670,.738,.670,.743,.670,.749,.670,.758,.670,.801,.671,.664,.664];
const lowerRight = [.624,.652,.686,.649,.691,.655,.694,.656,.739,.650,.679,.631,.773,.629,.669,.602,.664,.596,.667,.596,.675,.599,.679,.599,.689,.599,.692,.603,.696,.596,.699,.596,.722,.601,.620,.604,.623,.604,.635,.599,.637,.596,.619,.596,.630,.588,.644,.588,.635,.582,.655,.581,.663,.587,.705,.586,.709,.582,.712,.584,.711,.582,.693,.582,.624,.567,.626,.566,.621,.560,.622,.555,.638,.556,.650,.556,.650,.551,.673,.556,.680,.556,.682,.552,.690,.551,.695,.552,.699,.561,.723,.568,.690,.542,.689,.534,.639,.527,.652,.527,.672,.525,.685,.525,.695,.527,.632,.519,.636,.519,.706,.522,.692,.518,.670,.514,.707,.509,.710,.509,.630,.509,.708,.506,.715,.485,.730,.494,.700,.487,.689,.494,.689,.482,.696,.443,.701,.443,.715,.440,.730,.431,.725,.417,.753,.420,.782,.414,.679,.401,.728,.379,.736,.379,.738,.375,.728,.375,.738,.366,.708,.378,.711,.374,.707,.347,.702,.346,.694,.348,.686,.368,.713,.362,.689,.346,.689,.338,.688,.324,.686,.315,.686,.306,.694,.308,.703,.308,.720,.329,.682,.273,.663,.362,.660,.448,.664,.448,.676,.454,.681,.448,.682,.443,.632,.524,.632,.506,.637,.487,.652,.506,.661,.482,.660,.473,.670,.526,.671,.520,.686,.538,.688,.533,.686,.524,.708,.561];
const upperLeft = [.293,.861,.317,.811,.320,.786,.311,.783,.286,.780,.293,.859,.315,.810,.341,.810,.347,.810,.350,.810,.494,.964,.511,.965,.516,.970,.520,.965,.562,.913,.553,.901,.564,.894,.572,.903,.581,.913,.589,.910,.597,.913,.597,.966,.602,.966,.614,.966,.621,.966,.627,.961,.564,.826,.572,.826,.564,.794,.572,.789,.568,.770,.580,.775,.587,.786,.595,.794,.602,.798,.341,.782,.323,.780,.334,.775,.342,.752,.346,.752,.352,.757,.408,.753,.413,.755,.369,.756];
const upperMiddle = [.466,.892,.489,.893,.508,.892,.511,.892,.515,.893,.522,.892,.524,.892,.545,.893,.548,.893,.562,.892,.447,.880,.455,.880,.468,.880,.482,.880,.487,.880,.489,.880,.496,.880,.499,.880,.506,.880,.514,.880,.516,.880,.520,.880,.544,.880,.546,.880,.457,.872,.462,.872,.479,.872,.516,.867,.557,.880,.559,.877,.551,.877,.548,.873,.542,.873,.552,.869,.398,.869,.386,.859,.402,.859,.409,.859,.420,.863,.420,.859,.423,.859,.429,.859,.454,.859,.454,.855,.454,.852,.433,.852,.420,.848,.433,.843,.528,.861,.528,.857,.532,.855,.537,.859,.532,.850,.537,.850,.542,.850,.542,.844,.549,.850,.553,.859,.559,.859,.563,.858,.523,.842,.525,.837,.514,.837,.535,.837,.503,.831,.540,.831,.543,.832,.545,.831,.556,.832,.559,.831,.375,.831,.383,.831,.389,.831,.391,.831,.396,.831,.399,.831,.409,.833,.414,.829,.415,.821,.443,.818,.445,.821,.448,.821,.456,.821,.458,.821,.469,.821,.473,.821,.477,.821,.481,.821,.485,.821,.489,.821,.490,.818,.497,.820,.502,.817,.505,.821,.508,.823,.511,.823,.515,.821,.523,.820,.520,.812,.529,.820,.534,.824,.535,.819,.538,.819,.545,.821,.550,.818,.550,.822,.557,.821,.559,.819,.562,.821,.385,.810,.389,.810,.394,.810,.412,.810,.417,.810,.417,.806,.421,.811,.421,.807,.428,.810,.434,.811,.454,.806,.472,.812,.494,.810,.495,.806,.509,.813,.508,.807,.467,.802,.526,.807,.530,.810,.537,.805,.538,.801,.545,.803,.552,.806,.546,.802,.383,.795,.409,.794,.413,.795,.424,.794,.428,.796,.434,.794,.443,.794,.447,.794,.450,.794,.452,.794,.458,.794,.474,.794,.485,.794,.495,.794,.502,.794,.504,.798,.512,.794,.516,.794,.517,.788,.521,.798,.525,.794,.529,.801,.530,.794,.535,.792,.540,.792,.543,.796,.547,.794,.551,.798,.557,.798,.560,.794,.546,.788,.554,.790,.468,.782,.545,.782,.549,.782,.553,.782,.554,.785,.383,.776,.388,.776,.390,.776,.392,.776,.385,.772,.386,.770];
const regions = [lowLeft, lowRight, midCentre, midCentreLeft, farLeft, upperCentre, centreBand, topRight, upperRight, lowerRight, upperLeft, upperMiddle];
const religion = [], academic = [];
regions.forEach(r => { for (let i = 0; i < r.length; i += 2) { religion.push(r[i]); academic.push(r[i + 1]); } });

const FONT = "Lato, 'Liberation Sans', sans-serif";
const axisCommon = {
  range: [-0.05, 1.05], tickvals: tickValues, ticktext: tickLabels,
  ticks: "outside", ticklen: 11, tickwidth: 4, tickcolor: "#333333",
  tickfont: {family: FONT, size: 36.5, color: "#4d4d4d"},
  showgrid: true, gridcolor: "#ffffff", gridwidth: 4.2, zeroline: false, showline: false,
  minor: {tickvals: [0.125, 0.375, 0.625, 0.875], showgrid: true, gridcolor: "#ffffff", gridwidth: 2.1, ticks: ""}
};
Plotly.newPlot("chart", [{
  type: "scatter", mode: "markers", x: religion, y: academic, cliponaxis: false,
  marker: {size: 10.5, color: "#9c6488", line: {width: 0}}, hoverinfo: "x+y"
}], {
  width: 2400, height: 2100, showlegend: false, paper_bgcolor: "#ffffff", plot_bgcolor: "#e5e5e5",
  margin: {l: 167, r: 23, t: 159, b: 129},
  font: {family: FONT},
  title: {text: titleText, x: 167/2400, xanchor: "left", y: 1 - 65/2100, yanchor: "bottom", font: {family: FONT, size: 54.8, color: "#000000"}, pad: {t: 0, b: 0, l: 0, r: 0}},
  annotations: [{text: subtitleText, xref: "paper", yref: "paper", x: 0, y: 1 + (159 - 141)/1812, xanchor: "left", yanchor: "bottom", showarrow: false, font: {family: FONT, size: 45.5, color: "#000000"}, xshift: -2}],
  xaxis: Object.assign({}, axisCommon, {title: {text: xAxisTitle, font: {family: FONT, size: 45.6, color: "#000000"}, standoff: 0}}),
  yaxis: Object.assign({}, axisCommon, {title: {text: yAxisTitle, font: {family: FONT, size: 45.6, color: "#000000"}, standoff: 1}})
}, {displayModeBar: false});
</script></body></html>
